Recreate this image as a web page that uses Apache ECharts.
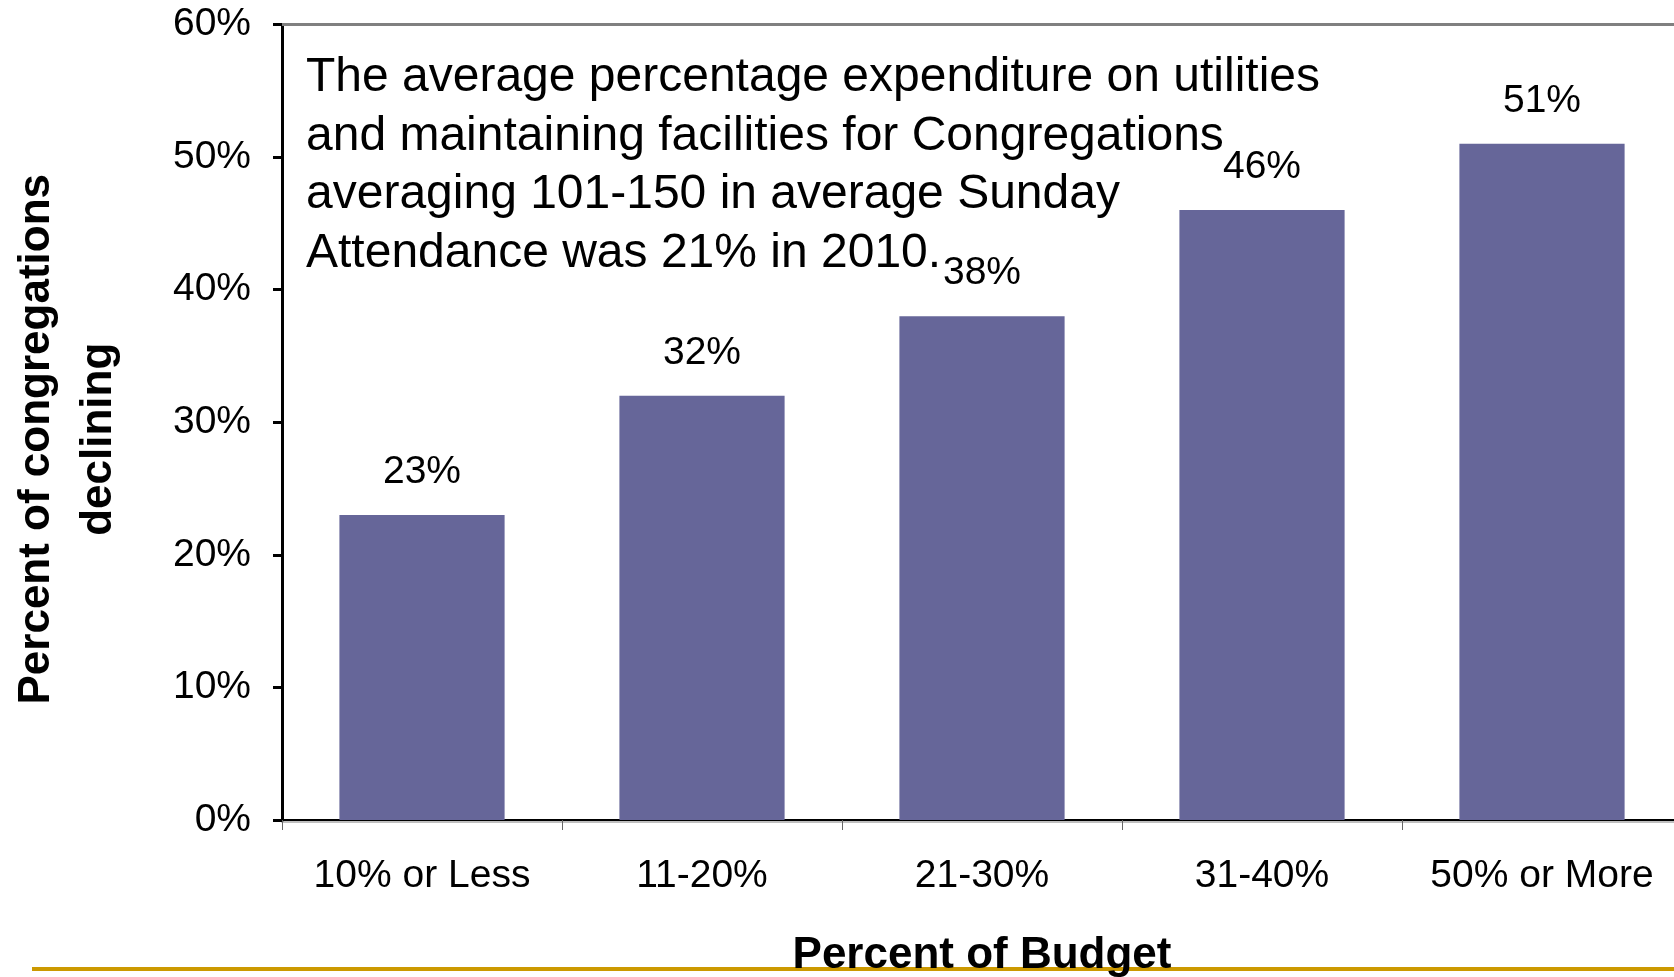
<!DOCTYPE html>
<html>
<head>
<meta charset="utf-8">
<title>Percent of congregations declining by budget share</title>
<script src="https://cdn.jsdelivr.net/npm/echarts@6/dist/echarts.min.js"></script>
<style>
  html, body { margin: 0; padding: 0; background: #ffffff; }
  #chart { width: 1674px; height: 977px; }
</style>
</head>
<body>
<div id="chart"></div>
<script>
// Share of budget spent on utilities and facilities (categories)
const categories = ['10% or Less', '11-20%', '21-30%', '31-40%', '50% or More'];
// Percent of congregations declining in each group
const declining = [23, 32, 38, 46, 51];
// Value-axis range and step (percent)
const yMin = 0;
const yMax = 60;
const yStep = 10;

const note = 'The average percentage expenditure on utilities\n' +
             'and maintaining facilities for Congregations\n' +
             'averaging 101-150 in average Sunday\n' +
             'Attendance was 21% in 2010.';

const FONT = '"Liberation Sans", Arial, sans-serif';

const chart = echarts.init(document.getElementById('chart'), null, { renderer: 'canvas' });

chart.setOption({
  backgroundColor: '#ffffff',
  animation: false,
  grid: {
    left: 282, right: -8, top: 24.5, bottom: 157,
    containLabel: false,
    outerBoundsMode: 'none'
  },
  xAxis: [
    {
      type: 'category',
      data: categories,
      position: 'bottom',
      axisLine: { show: true, lineStyle: { color: '#000000', width: 2, shadowColor: 'rgba(0,0,0,0.25)', shadowOffsetY: 2 } },
      axisTick: { show: true, interval: 0, length: 10, lineStyle: { color: '#666666', width: 1 } },
      axisLabel: { interval: 0, hideOverlap: false, color: '#000000', fontFamily: FONT, fontSize: 39, margin: 37 },
      name: 'Percent of Budget',
      nameLocation: 'middle',
      nameGap: 114,
      nameTextStyle: { color: '#000000', fontFamily: FONT, fontSize: 44, fontWeight: 'bold' }
    },
    {
      // frame line along the top of the plot area
      type: 'category',
      data: categories,
      position: 'top',
      axisLine: { show: true, lineStyle: { color: '#808080', width: 3 } },
      axisTick: { show: false },
      axisLabel: { show: false }
    }
  ],
  yAxis: {
    type: 'value',
    min: yMin,
    max: yMax,
    interval: yStep,
    axisLine: { show: true, lineStyle: { color: '#000000', width: 3 } },
    axisTick: { show: true, length: 9, lineStyle: { color: '#000000', width: 3 } },
    axisLabel: { color: '#000000', fontFamily: FONT, fontSize: 39, margin: 31, formatter: '{value}%' },
    splitLine: { show: false },
    name: 'Percent of congregations\ndeclining',
    nameLocation: 'middle',
    nameRotate: 90,
    nameGap: 152,
    nameTextStyle: {
      color: '#000000', fontFamily: FONT, fontSize: 44, fontWeight: 'bold',
      lineHeight: 62, align: 'center', padding: [0, 34, 0, 0]
    }
  },
  series: [
    {
      type: 'bar',
      data: declining,
      barWidth: '59%',
      itemStyle: { color: '#666699' },
      label: {
        show: true,
        position: 'top',
        distance: 23,
        color: '#000000',
        fontFamily: FONT,
        fontSize: 39,
        formatter: '{c}%'
      }
    }
  ],
  graphic: [
    {
      type: 'text',
      left: 306,
      top: 49,
      z: 10,
      style: {
        text: note,
        fill: '#000000',
        font: '48px ' + FONT,
        lineHeight: 58.4
      }
    },
    {
      type: 'rect',
      left: 32,
      top: 967,
      z: -10,
      shape: { width: 1642, height: 4 },
      style: { fill: '#CC9900' }
    }
  ]
});
</script>
</body>
</html>
